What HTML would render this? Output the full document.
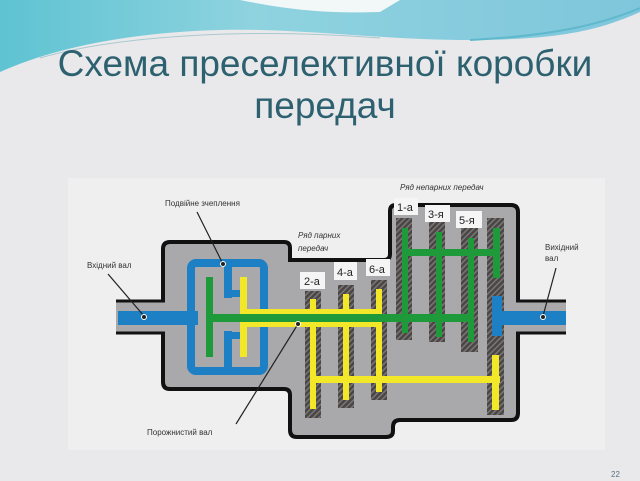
<!DOCTYPE html>
<html><head><meta charset="utf-8"><style>
html,body{margin:0;padding:0;width:640px;height:481px;overflow:hidden;background:#e9e9eb}
svg{display:block}
</style></head><body>
<svg width="640" height="481" viewBox="0 0 640 481" xmlns="http://www.w3.org/2000/svg">
<defs>
<linearGradient id="hd" x1="0" y1="0" x2="1" y2="0">
<stop offset="0" stop-color="#5ec3d2"/><stop offset="0.4" stop-color="#8fd3df"/><stop offset="1" stop-color="#7fc6dc"/></linearGradient>
<pattern id="ht" width="4" height="4" patternUnits="userSpaceOnUse" patternTransform="rotate(45)">
<rect width="4" height="4" fill="#4a4646"/><rect width="1.5" height="4" fill="#7a7676"/></pattern>
</defs>
<rect width="640" height="481" fill="#e9e9eb"/>
<path d="M0 0 H640 V12 C600 30 560 40 470 40 C380 40 300 28 220 30 C140 32 60 45 0 72 Z" fill="url(#hd)"/>
<path d="M240 0 C280 8 320 14 380 12 L400 0 Z" fill="#f2f7f8"/>
<path d="M40 58 C120 35 250 28 380 38" stroke="#a9c9d0" stroke-width="1" fill="none"/>
<path d="M470 40 C550 36 600 25 640 8" stroke="#5fb8cc" stroke-width="2" fill="none"/>
<text x="325" y="76" text-anchor="middle" font-family="'Liberation Sans',sans-serif" font-size="37" fill="#2d6170">Схема преселективної коробки</text>
<text x="325" y="118" text-anchor="middle" font-family="'Liberation Sans',sans-serif" font-size="37" fill="#2d6170">передач</text>
<rect x="68" y="178" width="537" height="272" fill="#efefef"/>
<!-- housing -->
<path d="M170 242 H284 Q290 242 290 248 V260 H384 Q390 260 390 254 V211 Q390 205 396 205 H511 Q518 205 518 212 V413 Q518 420 511 420 H400 Q393 420 393 427 V431 Q393 437 386 437 H297 Q290 437 290 430 V395 Q290 389 284 389 H170 Q163 389 163 382 V249 Q163 242 170 242 Z" fill="#a9a9ac" stroke="#111" stroke-width="4"/>
<!-- stubs -->
<rect x="116" y="302" width="53" height="30" fill="#a9a9ac"/>
<line x1="116" y1="301" x2="165" y2="301" stroke="#111" stroke-width="3"/>
<line x1="116" y1="333" x2="165" y2="333" stroke="#111" stroke-width="3"/>
<rect x="514" y="302" width="52" height="30" fill="#a9a9ac"/>
<line x1="516" y1="301" x2="566" y2="301" stroke="#111" stroke-width="3"/>
<line x1="516" y1="333" x2="566" y2="333" stroke="#111" stroke-width="3"/>
<!-- clutch blue -->
<rect x="118" y="311" width="80" height="14" fill="#1d7fc4"/>
<rect x="191" y="263" width="73" height="108" rx="5" fill="none" stroke="#1d7fc4" stroke-width="8"/>
<rect x="224" y="262" width="8" height="36" fill="#1d7fc4"/>
<rect x="224" y="331" width="8" height="40" fill="#1d7fc4"/>
<rect x="232" y="290" width="8" height="7" fill="#1d7fc4"/>
<rect x="232" y="332" width="8" height="7" fill="#1d7fc4"/>
<!-- even gears -->
<rect x="305" y="291" width="16" height="127" fill="url(#ht)"/>
<rect x="338" y="285" width="16" height="123" fill="url(#ht)"/>
<rect x="371" y="280" width="16" height="120" fill="url(#ht)"/>
<!-- odd gears -->
<rect x="396" y="218" width="16" height="122" fill="url(#ht)"/>
<rect x="429" y="222" width="16" height="120" fill="url(#ht)"/>
<rect x="461" y="228" width="17" height="124" fill="url(#ht)"/>
<rect x="487" y="218" width="17" height="197" fill="url(#ht)"/>
<!-- yellow -->
<rect x="240" y="309" width="142" height="18" fill="#f3e72a"/>
<rect x="240" y="277" width="7" height="80" fill="#f3e72a"/>
<rect x="310" y="299" width="6" height="110" fill="#f3e72a"/>
<rect x="343" y="294" width="6" height="106" fill="#f3e72a"/>
<rect x="376" y="289" width="6" height="103" fill="#f3e72a"/>
<rect x="312" y="376" width="188" height="7" fill="#f3e72a"/>
<rect x="492" y="355" width="7" height="55" fill="#f3e72a"/>
<!-- green -->
<rect x="206" y="277" width="7" height="80" fill="#1f9a3a"/>
<rect x="206" y="314" width="266" height="8" fill="#1f9a3a"/>
<rect x="402" y="228" width="6" height="105" fill="#1f9a3a"/>
<rect x="436" y="232" width="6" height="105" fill="#1f9a3a"/>
<rect x="468" y="238" width="6" height="104" fill="#1f9a3a"/>
<rect x="493" y="228" width="7" height="50" fill="#1f9a3a"/>
<rect x="402" y="249" width="98" height="7" fill="#1f9a3a"/>
<!-- output blue -->
<rect x="492" y="296" width="10" height="40" fill="#1d7fc4"/>
<rect x="492" y="311" width="74" height="14" fill="#1d7fc4"/>
<!-- labels -->
<g font-family="'Liberation Sans',sans-serif" font-size="11" fill="#222">
<rect x="300" y="272" width="25" height="17" fill="#f5f5f5"/><text x="304" y="285">2-а</text>
<rect x="334" y="262" width="23" height="18" fill="#f5f5f5"/><text x="337" y="276">4-а</text>
<rect x="366" y="259" width="24" height="17" fill="#f5f5f5"/><text x="369" y="273">6-а</text>
<rect x="394" y="198" width="24" height="17" fill="#f5f5f5"/><text x="397" y="211">1-а</text>
<rect x="425" y="205" width="25" height="17" fill="#f5f5f5"/><text x="428" y="218">3-я</text>
<rect x="456" y="211" width="26" height="17" fill="#f5f5f5"/><text x="459" y="224">5-я</text>
</g>
<g font-family="'Liberation Sans',sans-serif" font-size="8" fill="#333">
<text x="165" y="206">Подвійне зчеплення</text>
<text x="87" y="268">Вхідний вал</text>
<text x="147" y="435">Порожнистий вал</text>
<text x="545" y="250">Вихідний</text>
<text x="545" y="261">вал</text>
<g font-style="italic"><text x="298" y="238">Ряд парних</text><text x="298" y="251">передач</text>
<text x="400" y="190">Ряд непарних передач</text></g>
</g>
<g stroke="#222" stroke-width="1.2" fill="none">
<line x1="197" y1="212" x2="223" y2="264"/>
<line x1="108" y1="274" x2="144" y2="316"/>
<line x1="236" y1="424" x2="298" y2="324"/>
<line x1="556" y1="268" x2="543" y2="316"/>
</g>
<g fill="#222" stroke="#fff" stroke-width="1">
<circle cx="223" cy="264" r="2.5"/><circle cx="144" cy="317" r="2.5"/><circle cx="298" cy="324" r="2.5"/><circle cx="543" cy="317" r="2.5"/>
</g>
<text x="611" y="477" font-family="'Liberation Sans',sans-serif" font-size="8" fill="#5a6f80">22</text>
</svg>
</body></html>
